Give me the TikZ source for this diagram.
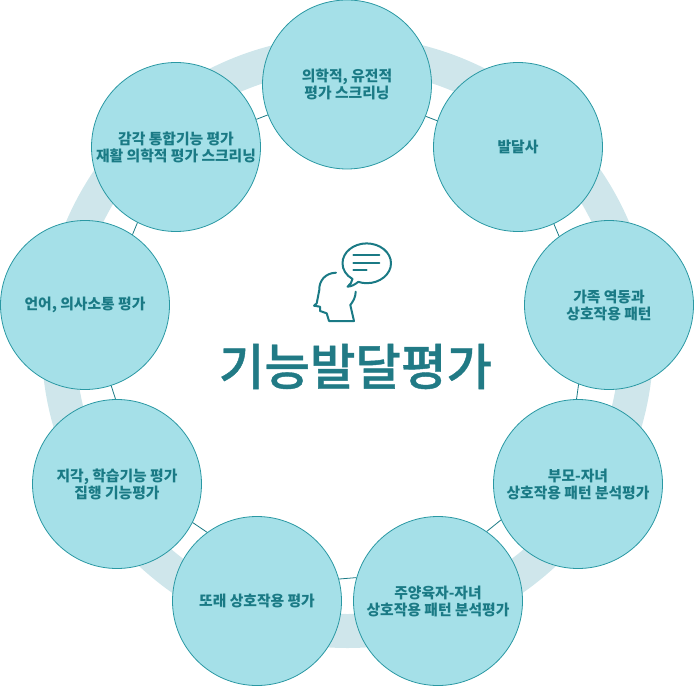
\documentclass[tikz,border=0pt]{standalone}
\usepackage{fontspec}
\setmainfont{Noto Sans CJK KR}
\newfontfamily\titlefont[FakeBold=0.8]{Noto Sans CJK KR Medium}
\usepackage{xcolor}
\usetikzlibrary{positioning}
\definecolor{ringcolor}{RGB}{207, 230, 235}
\definecolor{circlefill}{RGB}{165, 224, 232}
\definecolor{circleline}{RGB}{42, 152, 163}
\definecolor{labelcolor}{RGB}{26, 122, 133}
\definecolor{titlecolor}{RGB}{33, 122, 133}
\tikzset{
    eval circle/.style={circle, draw=circleline, fill=circlefill, line width=0.8pt, minimum size=169pt, inner sep=0pt,
        text=labelcolor, align=center, font=\fontsize{14.8}{17}\selectfont\bfseries},
    link line/.style={draw=labelcolor, line width=0.8pt},
    icon line/.style={draw=labelcolor, line width=2pt, line cap=round, line join=round}
}
\begin{document}
\begin{tikzpicture}[x=1pt, y=-1pt]
\useasboundingbox (0,0) rectangle (695,687);
% Background ring
\draw[ringcolor, line width=34pt] (347.5,342) circle[radius=289pt];

% Evaluation circles
\node[eval circle] (genetic) at (347,84.5) {의학적, 유전적\\평가 스크리닝};
\node[eval circle] (history) at (518,147) {발달사};
\node[eval circle] (family) at (609,305) {가족 역동과\\상호작용 패턴};
\node[eval circle] (parent) at (578,484) {부모-자녀\\상호작용 패턴 분석평가};
\node[eval circle] (carer) at (438,601) {주양육자-자녀\\상호작용 패턴 분석평가};
\node[eval circle] (peer) at (257,601) {또래 상호작용 평가};
\node[eval circle] (learning) at (117,484) {지각, 학습기능 평가\\집행 기능평가};
\node[eval circle] (language) at (85,305) {언어, 의사소통 평가};
\node[eval circle] (sensory) at (176,147) {감각 통합기능 평가\\재활 의학적 평가 스크리닝};

% Links between neighbours
\draw[link line] (genetic.338) -- (history.162);
\draw[link line] (history.295) -- (family.126);
\draw[link line] (family.249) -- (parent.91);
\draw[link line] (parent.205) -- (carer.55);
\draw[link line] (carer.164.5) -- (peer.15.8);
\draw[link line] (peer.126) -- (learning.333);
\draw[link line] (learning.91) -- (language.288);
\draw[link line] (language.56) -- (sensory.243);
\draw[link line] (sensory.19) -- (genetic.201);

% Head and speech bubble
\draw[icon line] (358.3,281.8) .. controls (361,282.8) and (364,283.2) .. (366.7,283.2)
    .. controls (380,283.2) and (391,274.3) .. (391,263.3)
    .. controls (391,252.3) and (380,243.4) .. (366.7,243.4)
    .. controls (353.4,243.4) and (342.5,252.3) .. (342.5,263.3)
    .. controls (342.5,269.5) and (346,275.3) .. (352.5,279)
    .. controls (352,282) and (350,285) .. (347.5,286.7)
    .. controls (351.5,286.5) and (355,284.5) .. (358.3,281.8);
\draw[icon line] (353.3,255.3) -- (379.3,255.3);
\draw[icon line] (353.3,262.7) -- (379.3,262.7);
\draw[icon line] (353.3,270) -- (366.7,270);
\draw[icon line] (336,272.7) .. controls (325,273) and (319,281) .. (319.3,290)
    -- (316.7,303.3) -- (314,305.7) -- (320,306.7) -- (320,311) -- (326.7,313.3)
    -- (329,321) -- (354,321) -- (350.3,305)
    .. controls (353.5,301) and (355.5,297) .. (355.7,291.7);

% Title
\node[text=titlecolor, font=\fontsize{49.5}{54}\selectfont\titlefont] (title) at (355.5,366.5) {기능발달평가};
\end{tikzpicture}
\end{document}
